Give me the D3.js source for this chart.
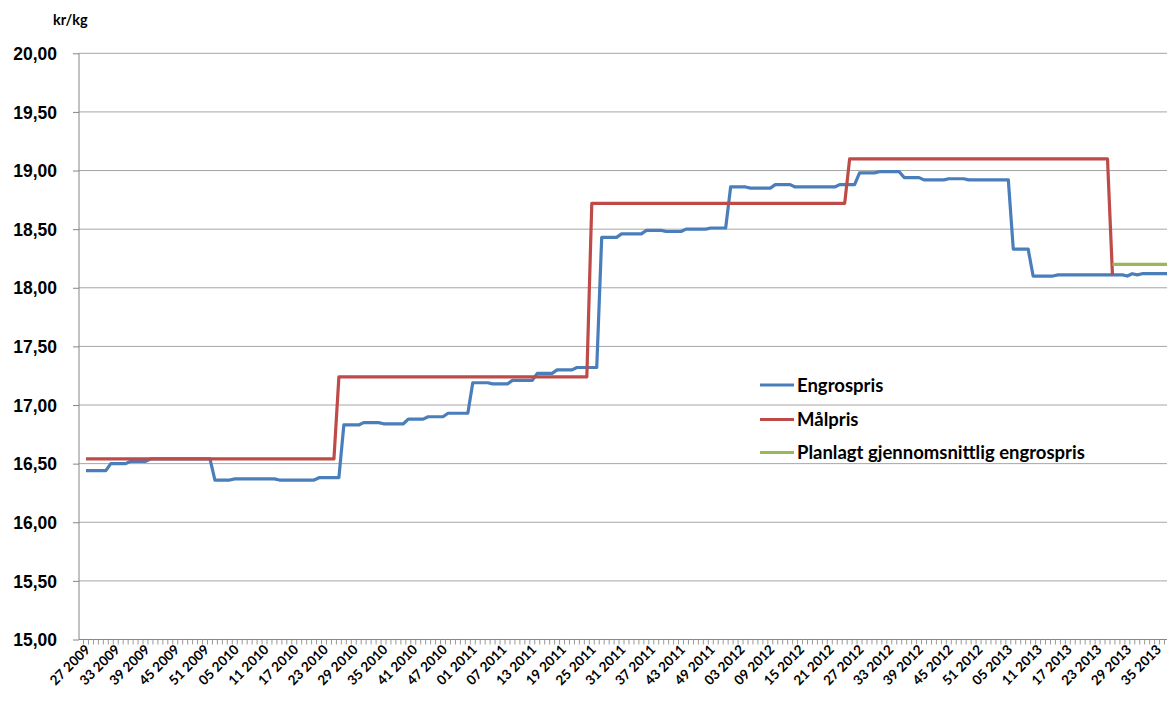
<!DOCTYPE html>
<html>
<head>
<meta charset="utf-8">
<script src="https://cdn.jsdelivr.net/npm/d3@7"></script>
<style>
  body { margin: 0; background: #fff; }
  svg { display: block; font-family: Lato, "Open Sans", sans-serif; }
  .lbl { font-weight: bold; fill: #000; }
</style>
</head>
<body>
<div class="chart"></div>
<script>
// weekly prices, kr/kg, week 27 2009 .. week 37 2013

// category weeks, built from year ranges (52 weeks per year like the source)
const yearSpans = [[2009, 27, 52], [2010, 1, 52], [2011, 1, 52], [2012, 1, 52], [2013, 1, 37]];
const weeks = [];
yearSpans.forEach(([yr, a, b]) => {
  for (let w = a; w <= b; w++) weeks.push(String(w).padStart(2, "0") + " " + yr);
});

// x tick labels (every 6th week)
const tickLabels = [
  "27 2009", "33 2009", "39 2009", "45 2009", "51 2009",
  "05 2010", "11 2010", "17 2010", "23 2010", "29 2010", "35 2010", "41 2010", "47 2010",
  "01 2011", "07 2011", "13 2011", "19 2011", "25 2011", "31 2011", "37 2011", "43 2011", "49 2011",
  "03 2012", "09 2012", "15 2012", "21 2012", "27 2012", "33 2012", "39 2012", "45 2012", "51 2012",
  "05 2013", "11 2013", "17 2013", "23 2013", "29 2013", "35 2013"
];

const yTicks = [15, 15.5, 16, 16.5, 17, 17.5, 18, 18.5, 19, 19.5, 20];

// Engrospris, one value per week from 27 2009
const engrospris = [
  // 2009
  16.44, 16.44, 16.44, 16.44, 16.44, 16.50, 16.50, 16.50, 16.50, 16.52, 16.52, 16.52, 16.52,
  16.54, 16.54, 16.54, 16.54, 16.54, 16.54, 16.54, 16.54, 16.54, 16.54, 16.54, 16.54, 16.54,
  // 2010
  16.36, 16.36, 16.36, 16.36, 16.37, 16.37, 16.37, 16.37, 16.37, 16.37, 16.37, 16.37, 16.37,
  16.36, 16.36, 16.36, 16.36, 16.36, 16.36, 16.36, 16.36, 16.38, 16.38, 16.38, 16.38, 16.38,
  16.83, 16.83, 16.83, 16.83, 16.85, 16.85, 16.85, 16.85, 16.84, 16.84, 16.84, 16.84, 16.84,
  16.88, 16.88, 16.88, 16.88, 16.90, 16.90, 16.90, 16.90, 16.93, 16.93, 16.93, 16.93, 16.93,
  // 2011
  17.19, 17.19, 17.19, 17.19, 17.18, 17.18, 17.18, 17.18, 17.21, 17.21, 17.21, 17.21, 17.21,
  17.27, 17.27, 17.27, 17.27, 17.30, 17.30, 17.30, 17.30, 17.32, 17.32, 17.32, 17.32, 17.32,
  18.43, 18.43, 18.43, 18.43, 18.46, 18.46, 18.46, 18.46, 18.46, 18.49, 18.49, 18.49, 18.49,
  18.48, 18.48, 18.48, 18.48, 18.50, 18.50, 18.50, 18.50, 18.50, 18.51, 18.51, 18.51, 18.51,
  // 2012
  18.86, 18.86, 18.86, 18.86, 18.85, 18.85, 18.85, 18.85, 18.85, 18.88, 18.88, 18.88, 18.88,
  18.86, 18.86, 18.86, 18.86, 18.86, 18.86, 18.86, 18.86, 18.86, 18.88, 18.88, 18.88, 18.88,
  18.98, 18.98, 18.98, 18.98, 18.99, 18.99, 18.99, 18.99, 18.99, 18.94, 18.94, 18.94, 18.94,
  18.92, 18.92, 18.92, 18.92, 18.92, 18.93, 18.93, 18.93, 18.93, 18.92, 18.92, 18.92, 18.92,
  // 2013
  18.92, 18.92, 18.92, 18.92, 18.92, 18.33, 18.33, 18.33, 18.33, 18.10, 18.10, 18.10, 18.10,
  18.10, 18.11, 18.11, 18.11, 18.11, 18.11, 18.11, 18.11, 18.11, 18.11, 18.11, 18.11, 18.11,
  18.11, 18.11, 18.10, 18.12, 18.11, 18.12, 18.12, 18.12, 18.12, 18.12, 18.12
];

// Målpris, from 27 2009 to 26 2013
const maalpris = [
  // 2009
  16.54, 16.54, 16.54, 16.54, 16.54, 16.54, 16.54, 16.54, 16.54, 16.54, 16.54, 16.54, 16.54,
  16.54, 16.54, 16.54, 16.54, 16.54, 16.54, 16.54, 16.54, 16.54, 16.54, 16.54, 16.54, 16.54,
  // 2010
  16.54, 16.54, 16.54, 16.54, 16.54, 16.54, 16.54, 16.54, 16.54, 16.54, 16.54, 16.54, 16.54,
  16.54, 16.54, 16.54, 16.54, 16.54, 16.54, 16.54, 16.54, 16.54, 16.54, 16.54, 16.54, 17.24,
  17.24, 17.24, 17.24, 17.24, 17.24, 17.24, 17.24, 17.24, 17.24, 17.24, 17.24, 17.24, 17.24,
  17.24, 17.24, 17.24, 17.24, 17.24, 17.24, 17.24, 17.24, 17.24, 17.24, 17.24, 17.24, 17.24,
  // 2011
  17.24, 17.24, 17.24, 17.24, 17.24, 17.24, 17.24, 17.24, 17.24, 17.24, 17.24, 17.24, 17.24,
  17.24, 17.24, 17.24, 17.24, 17.24, 17.24, 17.24, 17.24, 17.24, 17.24, 17.24, 18.72, 18.72,
  18.72, 18.72, 18.72, 18.72, 18.72, 18.72, 18.72, 18.72, 18.72, 18.72, 18.72, 18.72, 18.72,
  18.72, 18.72, 18.72, 18.72, 18.72, 18.72, 18.72, 18.72, 18.72, 18.72, 18.72, 18.72, 18.72,
  // 2012
  18.72, 18.72, 18.72, 18.72, 18.72, 18.72, 18.72, 18.72, 18.72, 18.72, 18.72, 18.72, 18.72,
  18.72, 18.72, 18.72, 18.72, 18.72, 18.72, 18.72, 18.72, 18.72, 18.72, 18.72, 19.10, 19.10,
  19.10, 19.10, 19.10, 19.10, 19.10, 19.10, 19.10, 19.10, 19.10, 19.10, 19.10, 19.10, 19.10,
  19.10, 19.10, 19.10, 19.10, 19.10, 19.10, 19.10, 19.10, 19.10, 19.10, 19.10, 19.10, 19.10,
  // 2013
  19.10, 19.10, 19.10, 19.10, 19.10, 19.10, 19.10, 19.10, 19.10, 19.10, 19.10, 19.10, 19.10,
  19.10, 19.10, 19.10, 19.10, 19.10, 19.10, 19.10, 19.10, 19.10, 19.10, 19.10, 19.10, 18.11
];

// Planlagt gjennomsnittlig engrospris, from 26 2013
const plannedStart = "26 2013";
const planned = [18.20, 18.20, 18.20, 18.20, 18.20, 18.20, 18.20, 18.20, 18.20, 18.20, 18.20, 18.20];

const seriesNames = ["Engrospris", "Målpris", "Planlagt gjennomsnittlig engrospris"];
const seriesColors = ["#4a7ebb", "#be4b48", "#98b954"];

const W = 1167, H = 702;
const plotLeft = 79, plotTop = 53.3, plotBottom = 639.5;

const svg = d3.select(".chart").append("svg")
  .attr("width", W)
  .attr("height", H);

const x = d3.scalePoint()
  .domain(weeks)
  .range([86, 1167]);

const y = d3.scaleLinear()
  .domain([15, 20])
  .range([plotBottom, plotTop]);

const nb = d3.formatLocale({ decimal: ",", thousands: " ", grouping: [3], currency: ["", " kr"] }).format(".2f");

// gridlines
svg.append("g")
  .selectAll("line")
  .data(yTicks.slice(1))
  .join("line")
  .attr("x1", plotLeft).attr("x2", W)
  .attr("y1", d => y(d)).attr("y2", d => y(d))
  .attr("stroke", "#a6a6a6")
  .attr("stroke-width", 1);

// y axis
const yAxis = d3.axisLeft(y).tickValues(yTicks).tickFormat(nb).tickSize(6).tickPadding(16);
const gy = svg.append("g")
  .attr("transform", "translate(" + plotLeft + ",0)")
  .call(yAxis);
gy.select(".domain").attr("stroke", "#868686").attr("d", "M0," + y(20) + "V" + y(15));
gy.selectAll(".tick line").attr("stroke", "#868686");
gy.selectAll(".tick text").attr("class", "lbl").style("font-size", "17.5px").attr("dy", "0.35em");

// x axis with tick marks between weeks
const step = x.step();
svg.append("line")
  .attr("x1", plotLeft).attr("x2", W)
  .attr("y1", plotBottom).attr("y2", plotBottom)
  .attr("stroke", "#868686");
svg.append("g")
  .selectAll("line")
  .data(weeks)
  .join("line")
  .attr("x1", d => x(d) - step / 2).attr("x2", d => x(d) - step / 2)
  .attr("y1", plotBottom).attr("y2", plotBottom + 5)
  .attr("stroke", "#9a9a9a");

svg.append("g")
  .selectAll("text")
  .data(tickLabels)
  .join("text")
  .attr("class", "lbl")
  .style("font-size", "13.5px")
  .attr("text-anchor", "end")
  .attr("transform", d => "translate(" + (x(d) + 5) + "," + (plotBottom + 11) + ") rotate(-45)")
  .text(d => d);

// unit label
svg.append("text")
  .attr("class", "lbl")
  .attr("x", 53).attr("y", 25)
  .style("font-size", "14.5px")
  .text("kr/kg");

// lines
const line = d3.line()
  .x(d => x(d[0]))
  .y(d => y(d[1]));

const i0 = weeks.indexOf(plannedStart);
const seriesData = [
  engrospris.map((v, i) => [weeks[i], v]),
  maalpris.map((v, i) => [weeks[i], v]),
  planned.map((v, i) => [weeks[i0 + i], v])
];

// series drawn in order, like the source
[0, 1, 2].forEach(k => {
  svg.append("path")
    .datum(seriesData[k])
    .attr("d", line)
    .attr("fill", "none")
    .attr("stroke", seriesColors[k])
    .attr("stroke-width", 3.2)
    .attr("stroke-linejoin", "round");
});

// legend
const legY = [385, 419.5, 452.5];
const leg = svg.append("g");
seriesNames.forEach((n, k) => {
  leg.append("line")
    .attr("x1", 760).attr("x2", 794)
    .attr("y1", legY[k]).attr("y2", legY[k])
    .attr("stroke", seriesColors[k])
    .attr("stroke-width", 3.2);
  leg.append("text")
    .attr("class", "lbl")
    .attr("x", 797).attr("y", legY[k])
    .attr("dy", "0.36em")
    .style("font-size", "18.5px")
    .text(n);
});
</script>
</body>
</html>
